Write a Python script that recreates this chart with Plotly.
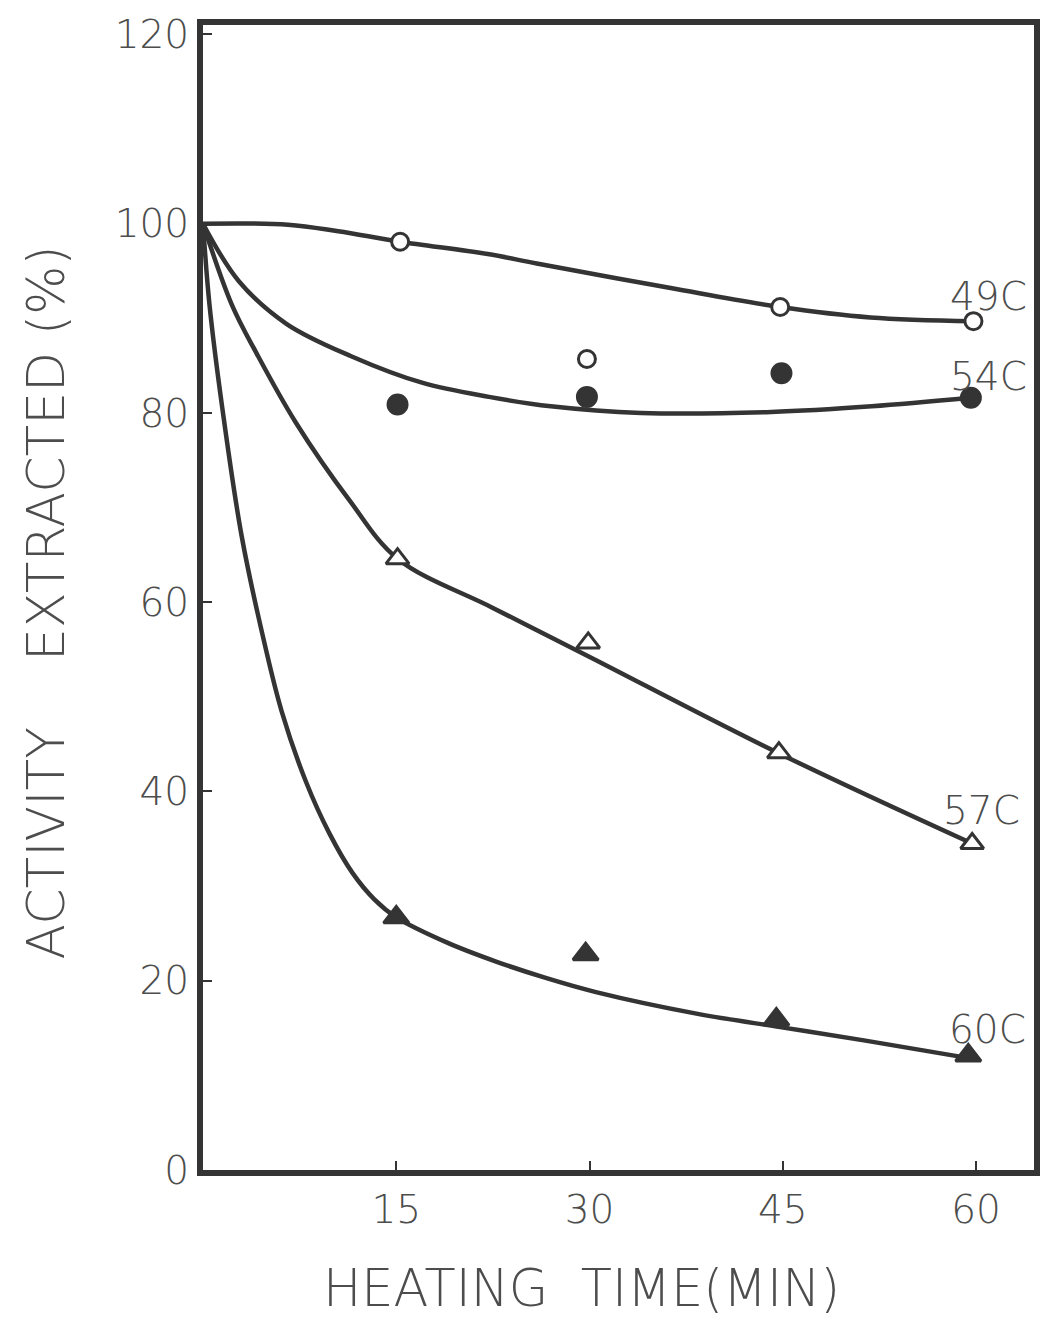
import plotly.graph_objects as go

# Measured residual activity (%) after heating, by temperature
time_49 = [15.3, 29.8, 44.8, 59.8]
act_49 = [98.1, 85.7, 91.2, 89.7]
time_54 = [15.1, 29.8, 44.9, 59.6]
act_54 = [80.9, 81.7, 84.2, 81.6]
time_57 = [15.1, 29.9, 44.7, 59.7]
act_57 = [64.6, 55.7, 44.1, 34.5]
time_60 = [15.0, 29.7, 44.5, 59.4]
act_60 = [26.7, 22.8, 15.9, 12.1]

# Hand-fitted smooth curves through each series
fit49_t = [0, 6.6, 10.5, 15.3, 22.1, 25.9, 36.3, 44.8, 51.8, 59.8]
fit49_y = [100, 99.9, 99.2, 98.1, 96.8, 95.8, 93.2, 91.2, 90.1, 89.7]
fit54_t = [0, 2.8, 6.5, 11.5, 17.0, 22.2, 27.0, 34.0, 44.1, 51.9, 59.6]
fit54_y = [100, 93.9, 89.4, 86.0, 83.2, 81.7, 80.7, 80.0, 80.1, 80.7, 81.6]
fit57_t = [0, 2.25, 4.2, 7.2, 11.3, 15.1, 22.5, 29.9, 44.6, 59.7]
fit57_y = [100, 91.4, 86.2, 79.0, 70.9, 64.6, 59.4, 54.3, 44.1, 34.5]
fit60_t = [0, 0.5, 1.5, 3.0, 4.8, 6.1, 8.0, 9.8, 11.6, 13.3, 15.0, 19.0,
           22.8, 26.6, 30.5, 38.4, 44.8, 51.3, 59.1]
fit60_y = [100, 91.5, 80.5, 67.0, 55.5, 48.5, 41.0, 35.6, 31.4, 28.6, 26.7,
           24.0, 22.0, 20.3, 18.8, 16.5, 15.1, 13.7, 11.9]

# Curve labels
label_text = ["49C", "54C", "57C", "60C"]
label_t = [61.0, 61.0, 60.4, 60.9]
label_y = [92.3, 83.9, 38.0, 14.8]

x_ticks = [15, 30, 45, 60]
y_ticks = [0, 20, 40, 60, 80, 100, 120]

INK = "#343434"
TEXT = "#4d4d4d"
FONT = "DejaVu Sans"

fig = go.Figure()

for t, y in [(fit49_t, fit49_y), (fit54_t, fit54_y), (fit57_t, fit57_y), (fit60_t, fit60_y)]:
    fig.add_trace(go.Scatter(
        x=t, y=y, mode="lines",
        line=dict(color=INK, width=4.5, shape="spline", smoothing=1.0),
        hoverinfo="skip", showlegend=False,
    ))

marker_sets = [
    (time_49, act_49, "circle", "white", 17),
    (time_54, act_54, "circle", INK, 19),
    (time_57, act_57, "triangle-up", "white", 20),
    (time_60, act_60, "triangle-up", INK, 22),
]
for t, y, sym, fill, size in marker_sets:
    fig.add_trace(go.Scatter(
        x=t, y=y, mode="markers",
        marker=dict(symbol=sym, size=size, color=fill,
                    line=dict(color=INK, width=3)),
        showlegend=False,
    ))

for txt, t, y in zip(label_text, label_t, label_y):
    fig.add_annotation(x=t, y=y, text=txt, showarrow=False,
                       xanchor="center", yanchor="middle",
                       font=dict(family=FONT, size=39, color=TEXT, weight=200))

fig.add_annotation(xref="paper", yref="paper", x=0.5, y=0,
                   text="HEATING\u00a0\u00a0TIME(MIN)", showarrow=False,
                   xanchor="center", yanchor="middle", xshift=-37, yshift=-118,
                   font=dict(family=FONT, size=51, color=TEXT, weight=200))
fig.add_annotation(xref="paper", yref="paper", x=0, y=0.5,
                   text="ACTIVITY\u00a0\u00a0\u00a0\u00a0EXTRACTED (%)", showarrow=False,
                   textangle=-90, xanchor="center", yanchor="middle",
                   xshift=-158, yshift=-5,
                   font=dict(family=FONT, size=52, color=TEXT, weight=200))

axis_common = dict(
    showgrid=False, zeroline=False,
    showline=True, mirror=True, linecolor=INK, linewidth=6,
    ticks="inside", ticklen=9, tickwidth=2, tickcolor=INK,
    tickfont=dict(family=FONT, size=39, color=TEXT, weight=200),
)

fig.update_layout(
    width=1052, height=1323,
    margin=dict(l=203, r=15, t=20, b=153),
    paper_bgcolor="white", plot_bgcolor="white",
    xaxis=dict(range=[0, 64.5], tickvals=x_ticks, **axis_common),
    yaxis=dict(range=[0, 121], tickvals=y_ticks, **axis_common),
    showlegend=False,
)

fig.write_html("out.html")
